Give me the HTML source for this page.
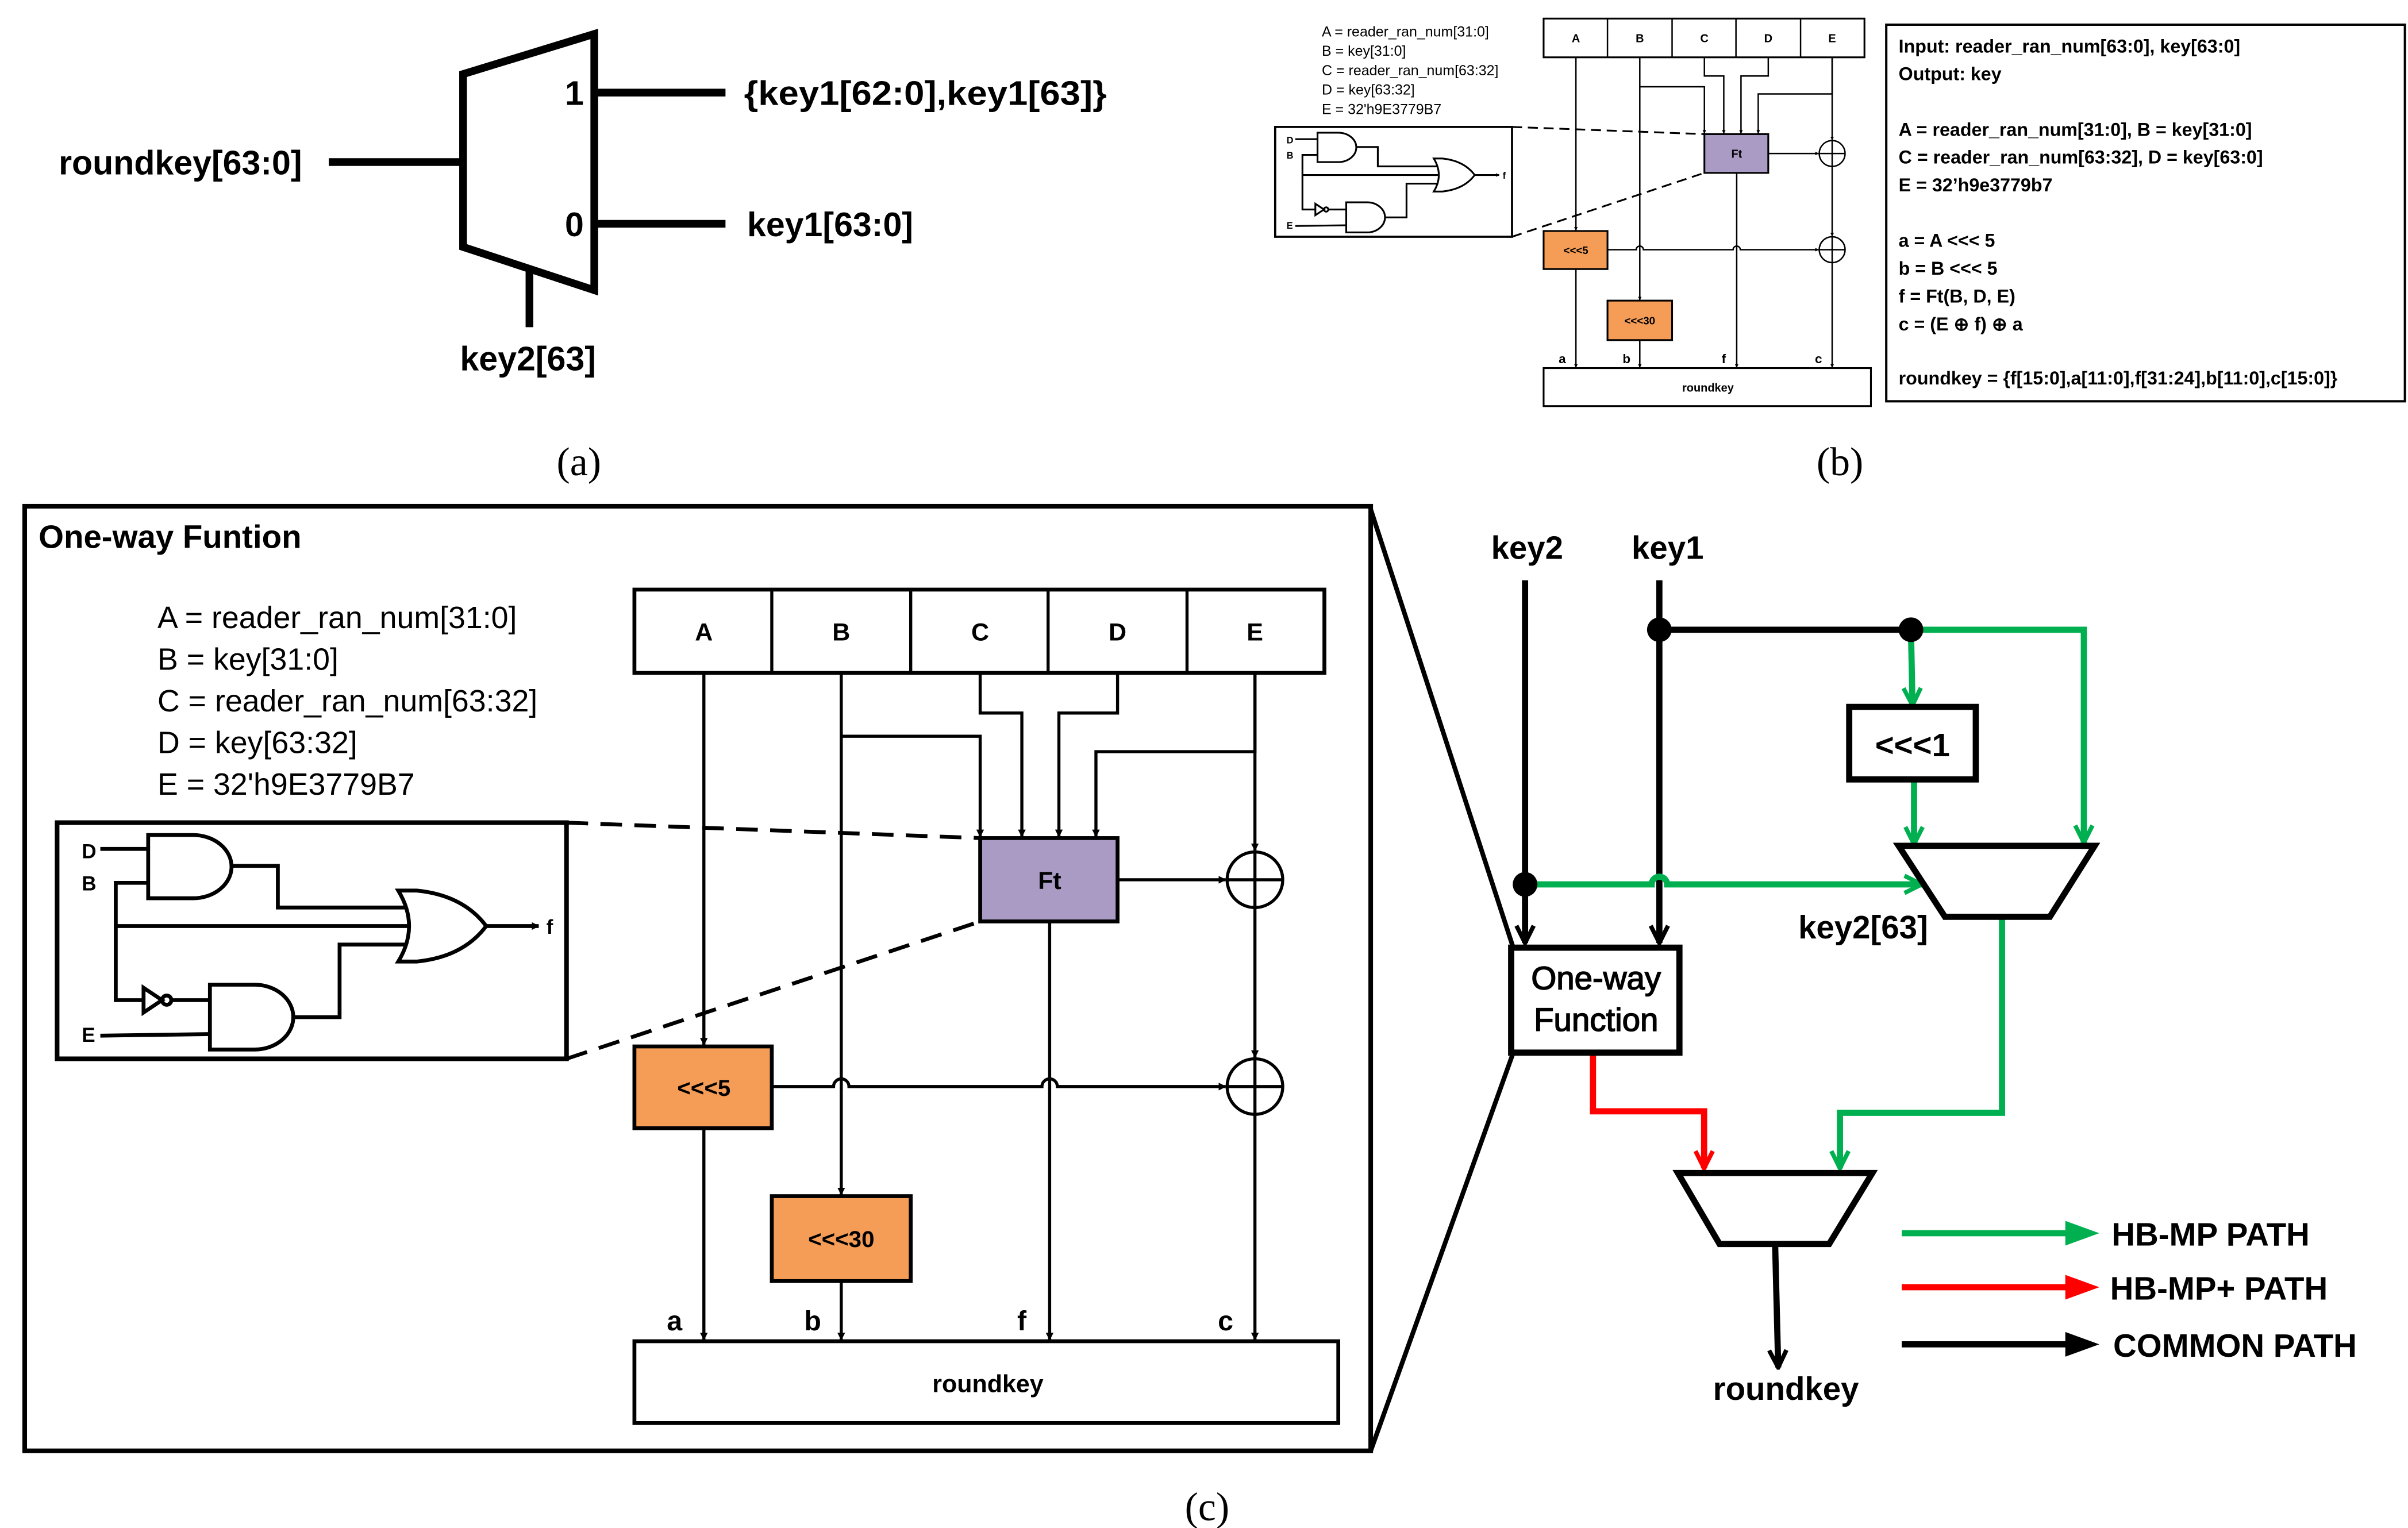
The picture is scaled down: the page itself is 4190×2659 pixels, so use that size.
<!DOCTYPE html>
<html><head><meta charset="utf-8"><style>
html,body{margin:0;padding:0;background:#fff;}
svg{display:block;}
text{font-family:"Liberation Sans",sans-serif;font-weight:bold;fill:#000;}
.s{font-family:"Liberation Serif",serif;font-weight:normal;}
</style></head><body>
<svg width="4190" height="2659" viewBox="0 0 1560 990" preserveAspectRatio="none" xmlns="http://www.w3.org/2000/svg">
<defs>
<marker id="ak" viewBox="0 0 10 10" refX="9" refY="5" markerWidth="5" markerHeight="5" orient="auto" markerUnits="userSpaceOnUse"><path d="M0,0 L10,5 L0,10 z" fill="#000"/></marker>
<marker id="vk" viewBox="0 0 10 10" refX="9" refY="5" markerWidth="14" markerHeight="14" orient="auto" markerUnits="userSpaceOnUse"><path d="M1,1 L9,5 L1,9" fill="none" stroke="#000" stroke-width="2"/></marker>
<marker id="vg" viewBox="0 0 10 10" refX="9" refY="5" markerWidth="14" markerHeight="14" orient="auto" markerUnits="userSpaceOnUse"><path d="M1,1 L9,5 L1,9" fill="none" stroke="#00B050" stroke-width="2"/></marker>
<marker id="vr" viewBox="0 0 10 10" refX="9" refY="5" markerWidth="14" markerHeight="14" orient="auto" markerUnits="userSpaceOnUse"><path d="M1,1 L9,5 L1,9" fill="none" stroke="#FF0000" stroke-width="2"/></marker>

<g id="inner">
 <g font-size="20">
  <text x="102" y="407" style="font-weight:normal">A = reader_ran_num[31:0]</text>
  <text x="102" y="434" style="font-weight:normal">B = key[31:0]</text>
  <text x="102" y="461" style="font-weight:normal">C = reader_ran_num[63:32]</text>
  <text x="102" y="488" style="font-weight:normal">D = key[63:32]</text>
  <text x="102" y="515" style="font-weight:normal">E = 32'h9E3779B7</text>
 </g>
 <rect x="411" y="382" width="447" height="54" fill="#fff" stroke="#000" stroke-width="2.5"/>
 <g stroke="#000" stroke-width="2"><line x1="500" y1="382" x2="500" y2="436"/><line x1="590" y1="382" x2="590" y2="436"/><line x1="679" y1="382" x2="679" y2="436"/><line x1="769" y1="382" x2="769" y2="436"/></g>
 <g font-size="16" text-anchor="middle"><text x="456" y="415">A</text><text x="545" y="415">B</text><text x="635" y="415">C</text><text x="724" y="415">D</text><text x="813" y="415">E</text></g>
 <g stroke="#000" stroke-width="2" fill="none">
  <line x1="456" y1="436" x2="456" y2="677" marker-end="url(#ak)"/>
  <line x1="456" y1="731" x2="456" y2="868" marker-end="url(#ak)"/>
  <line x1="545" y1="436" x2="545" y2="774" marker-end="url(#ak)"/>
  <line x1="545" y1="830" x2="545" y2="868" marker-end="url(#ak)"/>
  <polyline points="545,477 635,477 635,542" marker-end="url(#ak)"/>
  <polyline points="635,436 635,462 662,462 662,542" marker-end="url(#ak)"/>
  <polyline points="724,436 724,462 686,462 686,542" marker-end="url(#ak)"/>
  <polyline points="813,436 813,487 710,487 710,542" marker-end="url(#ak)"/>
  <line x1="813" y1="436" x2="813" y2="551" marker-end="url(#ak)"/>
  <line x1="813" y1="588" x2="813" y2="685" marker-end="url(#ak)"/>
  <line x1="813" y1="722" x2="813" y2="868" marker-end="url(#ak)"/>
  <line x1="724" y1="570" x2="794" y2="570" marker-end="url(#ak)"/>
  <line x1="680" y1="597" x2="680" y2="868" marker-end="url(#ak)"/>
  <path d="M500,704 H540 a5,5 0 0 1 10,0 H675 a5,5 0 0 1 10,0 H794" marker-end="url(#ak)"/>
  <circle cx="813" cy="570" r="18"/><line x1="795" y1="570" x2="831" y2="570"/><line x1="813" y1="552" x2="813" y2="588"/>
  <circle cx="813" cy="704" r="18"/><line x1="795" y1="704" x2="831" y2="704"/><line x1="813" y1="686" x2="813" y2="722"/>
 </g>
 <rect x="635" y="543" width="89" height="54" fill="#A99BC4" stroke="#000" stroke-width="2.5"/>
 <text x="680" y="576" font-size="16" text-anchor="middle">Ft</text>
 <rect x="411" y="678" width="89" height="53" fill="#F59D56" stroke="#000" stroke-width="2.5"/>
 <text x="456" y="710" font-size="15" text-anchor="middle">&lt;&lt;&lt;5</text>
 <rect x="500" y="775" width="90" height="55" fill="#F59D56" stroke="#000" stroke-width="2.5"/>
 <text x="545" y="808" font-size="15" text-anchor="middle">&lt;&lt;&lt;30</text>
 <g font-size="18"><text x="432" y="862">a</text><text x="521" y="862">b</text><text x="659" y="862">f</text><text x="789" y="862">c</text></g>
 <rect x="411" y="869" width="456" height="53" fill="#fff" stroke="#000" stroke-width="2.5"/>
 <text x="640" y="902" font-size="16" text-anchor="middle">roundkey</text>
 <g stroke="#000" stroke-width="2.5" stroke-dasharray="14,8"><line x1="367" y1="533" x2="635" y2="543"/><line x1="367" y1="686" x2="635" y2="597"/></g>
 <rect x="37" y="533" width="330" height="153" fill="#fff" stroke="#000" stroke-width="3"/>
 <g font-size="13"><text x="53" y="556">D</text><text x="53" y="577">B</text><text x="53" y="675">E</text><text x="354" y="605">f</text></g>
 <g stroke="#000" stroke-width="2.5" fill="none">
  <path d="M96,541 H125 A25,20.5 0 0 1 125,582 H96 Z"/>
  <line x1="65" y1="550" x2="96" y2="550"/>
  <polyline points="96,572 75,572 75,648 93,648"/>
  <line x1="75" y1="600" x2="266" y2="600"/>
  <polyline points="150,561 180,561 180,588 264,588"/>
  <path d="M258,577 H270 Q300,580 315,600 Q300,620 270,623 H258 Q272,600 258,577 Z"/>
  <line x1="315" y1="600" x2="349" y2="600" marker-end="url(#ak)"/>
  <path d="M93,640 L105,648 L93,656 Z"/><circle cx="108" cy="648" r="3"/>
  <line x1="111" y1="648" x2="136" y2="648"/>
  <path d="M136,638 H165 A25,21 0 0 1 165,680 H136 Z"/>
  <line x1="65" y1="671" x2="136" y2="670"/>
  <polyline points="190,659 220,659 220,612 264,612"/>
 </g>
</g>
</defs>

<!-- (a) -->
<g stroke="#000" stroke-width="5" fill="none">
 <path d="M300,48 L385,22 L385,188 L300,160 Z"/>
 <line x1="213" y1="105" x2="300" y2="105"/>
 <line x1="385" y1="60" x2="470" y2="60"/>
 <line x1="385" y1="145" x2="470" y2="145"/>
 <line x1="343" y1="173" x2="343" y2="212"/>
</g>
<g font-size="22">
 <text x="366" y="68">1</text><text x="366" y="153">0</text>
 <text x="38" y="113">roundkey[63:0]</text>
 <text x="482" y="68" textLength="235" lengthAdjust="spacingAndGlyphs">{key1[62:0],key1[63]}</text>
 <text x="484" y="153">key1[63:0]</text>
 <text x="298" y="240">key2[63]</text>
</g>
<text class="s" x="375" y="308" font-size="26" text-anchor="middle">(a)</text>

<!-- (b) -->
<use href="#inner" transform="translate(808.9,-165.6) scale(0.465)"/>
<rect x="1222" y="16" width="336" height="244" fill="none" stroke="#000" stroke-width="1.5"/>
<g font-size="12">
 <text x="1230" y="34">Input: reader_ran_num[63:0], key[63:0]</text>
 <text x="1230" y="52">Output: key</text>
 <text x="1230" y="88">A = reader_ran_num[31:0],   B = key[31:0]</text>
 <text x="1230" y="106">C = reader_ran_num[63:32], D = key[63:0]</text>
 <text x="1230" y="124">E = 32’h9e3779b7</text>
 <text x="1230" y="160">a = A &lt;&lt;&lt; 5</text>
 <text x="1230" y="178">b = B &lt;&lt;&lt; 5</text>
 <text x="1230" y="196">f = Ft(B, D, E)</text>
 <text x="1230" y="214">c = (E ⊕ f) ⊕ a</text>
 <text x="1230" y="249">roundkey = {f[15:0],a[11:0],f[31:24],b[11:0],c[15:0]}</text>
</g>
<text class="s" x="1192" y="308" font-size="26" text-anchor="middle">(b)</text>

<!-- (c) -->
<rect x="16" y="328" width="872" height="612" fill="none" stroke="#000" stroke-width="3"/>
<text x="25" y="355" font-size="21">One-way Funtion</text>
<use href="#inner"/>
<g stroke="#000" stroke-width="3"><line x1="888" y1="330" x2="980" y2="613"/><line x1="888" y1="940" x2="980" y2="683"/></g>

<g font-size="21"><text x="966" y="362">key2</text><text x="1057" y="362">key1</text></g>
<g stroke="#000" stroke-width="4" fill="none">
 <line x1="988" y1="376" x2="988" y2="611" marker-end="url(#vk)"/>
 <line x1="1075" y1="376" x2="1075" y2="611" marker-end="url(#vk)"/>
 <line x1="1075" y1="408" x2="1238" y2="408"/>
</g>
<g stroke="#00B050" stroke-width="4" fill="none">
 <polyline points="1238,408 1350,408 1350,546" marker-end="url(#vg)"/>
 <line x1="1238" y1="408" x2="1239" y2="457" marker-end="url(#vg)"/>
 <line x1="1240" y1="505" x2="1240" y2="547" marker-end="url(#vg)"/>
 <path d="M988,573 H1070 a5,5 0 0 1 10,0 H1245" marker-end="url(#vg)"/>
 <polyline points="1297,594 1297,721 1192,721 1192,757" marker-end="url(#vg)"/>
</g>
<polyline points="1032,682 1032,720 1104,720 1104,757" fill="none" stroke="#FF0000" stroke-width="4" marker-end="url(#vr)"/>
<g fill="#000"><circle cx="988" cy="573" r="8"/><circle cx="1075" cy="408" r="8"/><circle cx="1238" cy="408" r="8"/></g>
<rect x="1198" y="458" width="82" height="47" fill="#fff" stroke="#000" stroke-width="4"/>
<text x="1239" y="490" font-size="21" text-anchor="middle">&lt;&lt;&lt;1</text>
<path d="M1230,548 L1357,548 L1328,594 L1260,594 Z" fill="#fff" stroke="#000" stroke-width="4"/>
<text x="1165" y="608" font-size="21">key2[63]</text>
<rect x="979" y="614" width="109" height="68" fill="#fff" stroke="#000" stroke-width="4"/>
<text x="1034" y="641" font-size="21" text-anchor="middle" style="font-weight:normal;stroke:#000;stroke-width:0.6">One-way</text>
<text x="1034" y="668" font-size="21" text-anchor="middle" style="font-weight:normal;stroke:#000;stroke-width:0.6">Function</text>
<path d="M1087,760 L1213,760 L1185,806 L1114,806 Z" fill="#fff" stroke="#000" stroke-width="4"/>
<line x1="1150" y1="806" x2="1152" y2="886" stroke="#000" stroke-width="4" marker-end="url(#vk)"/>
<text x="1157" y="907" font-size="21" text-anchor="middle">roundkey</text>
<g stroke-width="4">
 <line x1="1232" y1="799" x2="1340" y2="799" stroke="#00B050"/><path d="M1338,791 L1360,799 L1338,807 Z" fill="#00B050"/>
 <line x1="1232" y1="834" x2="1340" y2="834" stroke="#FF0000"/><path d="M1338,826 L1360,834 L1338,842 Z" fill="#FF0000"/>
 <line x1="1232" y1="871" x2="1340" y2="871" stroke="#000"/><path d="M1338,863 L1360,871 L1338,879 Z" fill="#000"/>
</g>
<g font-size="21"><text x="1368" y="807">HB-MP PATH</text><text x="1367" y="842">HB-MP+ PATH</text><text x="1369" y="879">COMMON PATH</text></g>
<text class="s" x="782" y="985" font-size="26" text-anchor="middle">(c)</text>
</svg>
</body></html>
